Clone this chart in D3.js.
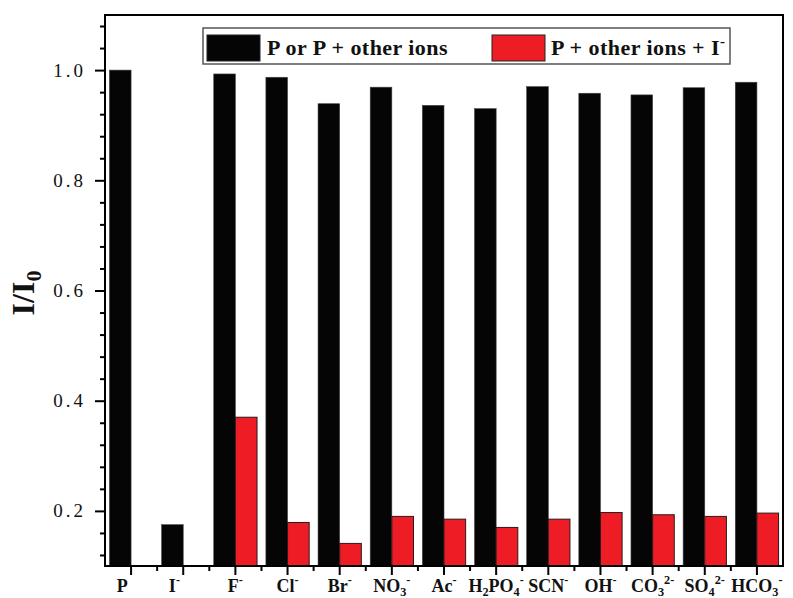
<!DOCTYPE html>
<html>
<head>
<meta charset="utf-8">
<script src="https://cdn.jsdelivr.net/npm/d3@7"></script>
<style>
  html, body { margin: 0; padding: 0; background: #fff; }
  svg { display: block; }
</style>
</head>
<body>
<svg id="chart" width="793" height="598"></svg>
<script>
// Ion labels: "_" marks a subscript, "^" a superscript ({...} groups several characters)
const categories = ["P", "I^-", "F^-", "Cl^-", "Br^-", "NO_3^-", "Ac^-", "H_2PO_4^-", "SCN^-", "OH^-", "CO_3^{2-}", "SO_4^{2-}", "HCO_3^-"];
// I/I0 of the probe alone or with each ion
const ratioAlone = [1.000, 0.175, 0.993, 0.987, 0.939, 0.969, 0.936, 0.930, 0.970, 0.958, 0.955, 0.968, 0.978];
// I/I0 after iodide is added as well (none for P and I- themselves)
const ratioWithIodide = [null, null, 0.370, 0.179, 0.141, 0.190, 0.185, 0.170, 0.185, 0.197, 0.193, 0.190, 0.196];
const seriesNames = ["P or P + other ions", "P + other ions + I^-"];
const seriesColors = ["#050505", "#ee1c25"];
const yMajorTicks = [0.2, 0.4, 0.6, 0.8, 1.0];
const yMinorTicks = [0.12, 0.16, 0.24, 0.28, 0.32, 0.36, 0.44, 0.48, 0.52, 0.56, 0.64, 0.68, 0.72, 0.76, 0.84, 0.88, 0.92, 0.96, 1.04, 1.08];
const yDomain = [0.1, 1.1];

const svg = d3.select("#chart");
const plot = { left: 105, right: 783, top: 15, bottom: 566 };
const serif = "'Liberation Serif', 'Times New Roman', serif";

const x = d3.scaleBand().domain(categories).range([plot.left, plot.right]).padding(0);
const y = d3.scaleLinear().domain(yDomain).range([plot.bottom, plot.top]);
const bw = x.bandwidth();
const barW = bw * 0.415;
const center = c => x(c) + bw / 2;

// Write a label with sub/superscripts into a <text> element
function richText(sel, str, fs, subShift) {
  const parts = [];
  const re = /([_^])(\{[^}]*\}|.)|([^_^]+)/g;
  let m;
  while ((m = re.exec(str)) !== null) {
    if (m[3]) parts.push({ t: null, s: m[3] });
    else parts.push({ t: m[1] === "_" ? "sub" : "sup", s: m[2].replace(/[{}]/g, "") });
  }
  let cur = 0;
  parts.forEach(p => {
    const target = p.t === "sub" ? subShift * fs : p.t === "sup" ? -0.42 * fs : 0;
    sel.append("tspan")
      .attr("dy", target - cur)
      .attr("font-size", p.t ? fs * 0.68 : fs)
      .text(p.s);
    cur = target;
  });
}

// Bars
const bars = svg.append("g");
categories.forEach((c, i) => {
  bars.append("rect")
    .attr("x", center(c) - barW)
    .attr("width", barW)
    .attr("y", y(ratioAlone[i]))
    .attr("height", y(yDomain[0]) - y(ratioAlone[i]))
    .attr("fill", seriesColors[0])
    .attr("stroke", "#444").attr("stroke-width", 0.6);
  if (ratioWithIodide[i] != null) {
    bars.append("rect")
      .attr("x", center(c))
      .attr("width", barW)
      .attr("y", y(ratioWithIodide[i]))
      .attr("height", y(yDomain[0]) - y(ratioWithIodide[i]))
      .attr("fill", seriesColors[1])
      .attr("stroke", "#2a1a1a").attr("stroke-width", 1);
  }
});

// Y axis: major ticks with labels, minor ticks without
const yAxis = svg.append("g").attr("transform", `translate(${plot.left},0)`)
  .call(d3.axisLeft(y).tickValues(yMajorTicks).tickSize(10).tickPadding(9).tickFormat(d3.format(".1f")));
yAxis.select(".domain").remove();
yAxis.selectAll(".tick line").attr("stroke", "#000").attr("stroke-width", 2);
yAxis.selectAll(".tick text")
  .attr("font-family", serif).attr("font-size", 19).attr("fill", "#111")
  .attr("letter-spacing", "3px");
const yMinor = svg.append("g").attr("transform", `translate(${plot.left},0)`)
  .call(d3.axisLeft(y).tickValues(yMinorTicks).tickSize(5).tickFormat(""));
yMinor.select(".domain").remove();
yMinor.selectAll(".tick line").attr("stroke", "#000").attr("stroke-width", 2);

// X axis: major ticks at group centres, minor ticks at band edges
const xMajor = svg.append("g").attr("transform", `translate(0,${plot.bottom})`);
categories.forEach(c => {
  xMajor.append("line").attr("x1", center(c)).attr("x2", center(c))
    .attr("y1", 0).attr("y2", 9).attr("stroke", "#000").attr("stroke-width", 2);
});
categories.slice(1).forEach(c => {
  xMajor.append("line").attr("x1", x(c)).attr("x2", x(c))
    .attr("y1", 0).attr("y2", 5).attr("stroke", "#000").attr("stroke-width", 2);
});
categories.forEach((c, i) => {
  const lx = ratioWithIodide[i] == null ? center(c) - barW / 2 + 2 : center(c);
  const t = xMajor.append("text")
    .attr("x", lx).attr("y", 26)
    .attr("text-anchor", "middle")
    .attr("font-family", serif).attr("font-weight", "bold").attr("fill", "#111");
  richText(t, c, 18, 0.2);
});

// Frame
svg.append("rect")
  .attr("x", plot.left).attr("y", plot.top)
  .attr("width", plot.right - plot.left).attr("height", plot.bottom - plot.top)
  .attr("fill", "none").attr("stroke", "#000").attr("stroke-width", 2);

// Y title
const yTitle = svg.append("text")
  .attr("transform", "translate(34,293) rotate(-90)")
  .attr("text-anchor", "middle")
  .attr("font-family", serif).attr("font-weight", "bold").attr("fill", "#111");
yTitle.append("tspan").attr("font-size", 32).text("I/I");
yTitle.append("tspan").attr("font-size", 22).attr("dy", 7).text("0");

// Legend
const legend = svg.append("g");
legend.append("rect").attr("x", 203).attr("y", 28).attr("width", 527).attr("height", 36)
  .attr("fill", "#fff").attr("stroke", "#555").attr("stroke-width", 1.5);
const legendItems = [{ sx: 207, tx: 267 }, { sx: 492, tx: 551 }];
legendItems.forEach((it, i) => {
  legend.append("rect").attr("x", it.sx).attr("y", 35).attr("width", 53).attr("height", 26)
    .attr("fill", seriesColors[i]).attr("stroke", "#222").attr("stroke-width", 1);
  const t = legend.append("text").attr("x", it.tx).attr("y", 55)
    .attr("font-family", serif).attr("font-weight", "bold").attr("fill", "#111")
    .attr("letter-spacing", "0.45px");
  richText(t, seriesNames[i], 22, 0.28);
});
</script>
</body>
</html>
